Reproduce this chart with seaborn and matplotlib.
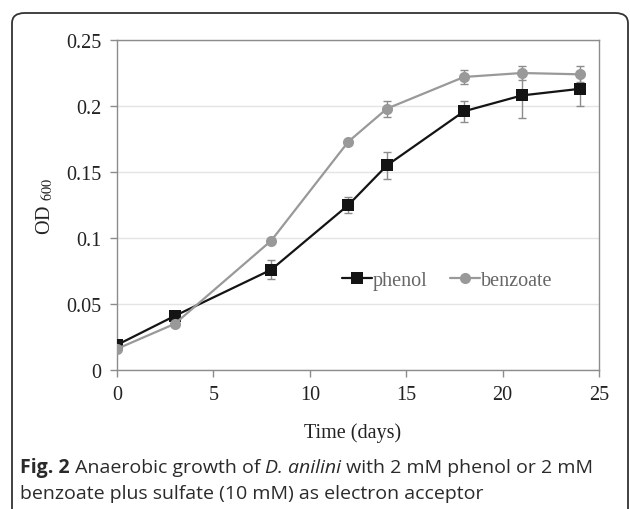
import matplotlib
matplotlib.use("Agg")
import matplotlib.pyplot as plt
import seaborn as sns
import pandas as pd
from matplotlib.patches import FancyBboxPatch

days = [0, 3, 8, 12, 14, 18, 21, 24]
phenol = [0.019, 0.041, 0.076, 0.125, 0.155, 0.196, 0.208, 0.213]
phenol_err = [0.001, 0.002, 0.007, 0.006, 0.010, 0.008, 0.017, 0.013]
benzoate = [0.016, 0.035, 0.098, 0.173, 0.198, 0.222, 0.225, 0.224]
benzoate_err = [0.001, 0.001, 0.001, 0.001, 0.006, 0.005, 0.005, 0.006]
xticks = [0, 5, 10, 15, 20, 25]
yticks = [0, 0.05, 0.1, 0.15, 0.2, 0.25]
ytick_labels = ["0", "0.05", "0.1", "0.15", "0.2", "0.25"]

df = pd.DataFrame({
    "day": days * 2,
    "od": phenol + benzoate,
    "series": ["phenol"] * len(days) + ["benzoate"] * len(days),
})

sns.set_theme(style="white")
plt.rcParams["font.family"] = ["Liberation Serif", "DejaVu Serif"]
plt.rcParams["mathtext.fontset"] = "stix"

fig = plt.figure(figsize=(6.3, 5.1), dpi=100)
ax = fig.add_axes([117 / 630, 1 - 371 / 510, (599 - 117) / 630, (371 - 41) / 510])

gray = "#8c8c8c"
ax.errorbar(days, phenol, yerr=phenol_err, fmt="none", ecolor=gray, elinewidth=1.0,
            capsize=3, capthick=1.0, zorder=2)
ax.errorbar(days, benzoate, yerr=benzoate_err, fmt="none", ecolor=gray, elinewidth=1.0,
            capsize=3, capthick=1.0, zorder=2)

sns.lineplot(data=df, x="day", y="od", hue="series", style="series",
             palette={"phenol": "#141414", "benzoate": "#999999"},
             markers={"phenol": "s", "benzoate": "o"}, dashes=False,
             markersize=8, markeredgewidth=0, linewidth=1.6, ax=ax, zorder=3)

ax.set_xlim(0, 25)
ax.set_ylim(0, 0.25)
ax.set_xticks(xticks)
ax.set_yticks(yticks)
ax.set_yticklabels(ytick_labels)
ax.tick_params(axis="both", direction="out", length=5, width=1, color=gray,
               labelsize=14.5, labelcolor="#222222")
ax.tick_params(axis="x", bottom=True, pad=6)
ax.tick_params(axis="y", left=True, pad=6)
ax.yaxis.grid(True, color="#e4e4e4", linewidth=1)
ax.xaxis.grid(False)
for s in ax.spines.values():
    s.set_color(gray)
    s.set_linewidth(1.0)

ax.set_xlabel("Time (days)", fontsize=14.5, color="#222222")
ax.xaxis.set_label_coords(0.488, (371 - 433) / 330, transform=ax.transAxes)
ax.xaxis.label.set_va("center")
ax.set_ylabel(r"OD $_{600}$", fontsize=14.5, color="#222222")
ax.yaxis.set_label_coords((45 - 117) / 482, 0.5, transform=ax.transAxes)
ax.yaxis.label.set_va("center")

leg = ax.legend(loc="center left", bbox_to_anchor=(0.445, 0.27), ncol=2, frameon=False,
                handlelength=1.5, handletextpad=0.05, columnspacing=1.1, fontsize=14.5,
                borderpad=0)
for t in leg.get_texts():
    t.set_color("#666666")

# caption
cap_font = ["Open Sans", "DejaVu Sans"]
cap_size = 14.0
cap_color = "#2a2a2a"
fig.canvas.draw()
renderer = fig.canvas.get_renderer()
y1 = 1 - 473 / 510
x = 20 / 630
pieces = [("Fig. 2", "bold", "normal"), (" Anaerobic growth of ", "normal", "normal"),
          ("D. anilini", "normal", "italic"), (" with 2 mM phenol or 2 mM", "normal", "normal")]
for txt, wt, st in pieces:
    t = fig.text(x, y1, txt, fontsize=cap_size, fontweight=wt, style=st,
                 family=cap_font, color=cap_color, va="baseline")
    bb = t.get_window_extent(renderer)
    x = bb.x1 / fig.bbox.width
fig.text(20 / 630, 1 - 499 / 510, "benzoate plus sulfate (10 mM) as electron acceptor",
         fontsize=cap_size, family=cap_font, color=cap_color, va="baseline")

frame = FancyBboxPatch((12 / 630, -0.2), (628 - 12) / 630, 1.2 - 14 / 510,
                       boxstyle="round,pad=0,rounding_size=0.02", transform=fig.transFigure,
                       fill=False, edgecolor="#333333", linewidth=1.3, clip_on=False)
fig.patches.append(frame)

fig.savefig("out.png", dpi=100)
